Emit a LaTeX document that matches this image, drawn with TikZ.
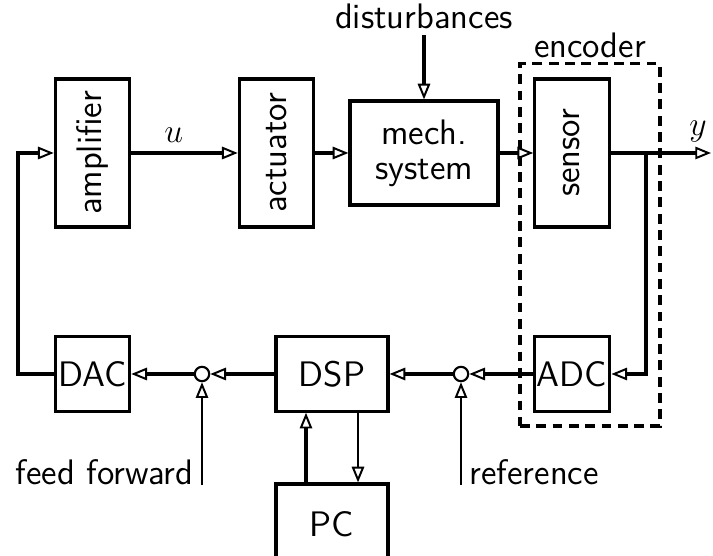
\documentclass[tikz,border=0pt]{standalone}
\usetikzlibrary{arrows.meta,positioning,shapes}

\begin{document}
\begin{tikzpicture}[
    x=0.0125cm, y=-0.0125cm,
    every node/.style={font=\sffamily\fontsize{12.6}{15}\selectfont},
    box/.style={rectangle, draw, line width=1.1pt, align=center, inner sep=1pt},
    tallbox/.style={box, rotate=90, minimum width=1.85cm, minimum height=0.93cm},
    sqbox/.style={box, minimum width=0.93cm, minimum height=0.93cm},
    sumnode/.style={circle, draw, line width=0.75pt, minimum size=0.18cm, inner sep=0pt},
    arrow/.style={-{Triangle[open, line width=0.7pt, length=5.6pt, width=4.4pt]}, line width=1.1pt},
    thinarrow/.style={-{Triangle[open, line width=0.7pt, length=5.6pt, width=4.4pt]}, line width=0.75pt}
  ]
    \clip (0,0) rectangle (713,556);

    % forward path
    \node[tallbox] (amp) at (92.5,153) {amplifier};
    \node[tallbox] (act) at (276.5,153) {actuator};
    \node[box, minimum width=1.85cm, minimum height=1.3cm] (mech) at (424,153) {mech.\\[-2.5pt]system};
    \node[tallbox] (sensor) at (572,153) {sensor};

    % feedback path
    \node[sqbox] (dac) at (92.5,374) {DAC};
    \node[sumnode] (sumff) at (202,374) {};
    \node[box, minimum width=1.4cm, minimum height=0.93cm] (dsp) at (332,374) {DSP};
    \node[sumnode] (sumref) at (461,374) {};
    \node[sqbox] (adc) at (572,374) {ADC};
    \node[box, minimum width=1.4cm, minimum height=1.0cm] (pc) at (332,524) {PC};

    \node[draw, dashed, dash pattern=on 3.5pt off 2.3pt, line width=1.1pt,
          minimum width=1.75cm, minimum height=4.525cm] (enc) at (590,245) {};
    \node[above=-2pt of enc] (enclabel) {encoder};

    \node (dist) at (424,16) {disturbances};
    \node[anchor=base east, inner sep=0pt] (fflabel) at (194,485) {feed forward};
    \node[anchor=base west, inner sep=0pt] (reflabel) at (469,485) {reference};

    \coordinate (yout) at (711,153);
    \coordinate (tap) at (646,153);
    \coordinate (fbl) at (18,153);
    \coordinate (ffin) at (202,485);
    \coordinate (refin) at (461,485);

    \draw[arrow] (amp) -- node[above, pos=0.4] {$u$} (act);
    \draw[arrow] (act) -- (mech);
    \draw[arrow] (mech) -- (sensor);
    \draw[arrow] (sensor) -- node[above, pos=0.87] {$y$} (yout);
    \draw[arrow] (dist.south |- 0,35) -- (mech);
    \draw[arrow] (tap) |- (adc);
    \draw[arrow] (adc) -- (sumref);
    \draw[arrow] (sumref) -- (dsp);
    \draw[arrow] (dsp) -- (sumff);
    \draw[arrow] (sumff) -- (dac);
    \draw[arrow] (dac.west) -- (fbl |- dac) -- (fbl) -- (amp);
    \draw[thinarrow] (ffin) -- (sumff);
    \draw[thinarrow] (refin) -- (sumref);
    \draw[arrow] ([xshift=-0.325cm]pc.north) -- ([xshift=-0.325cm]dsp.south);
    \draw[thinarrow] ([xshift=0.325cm]dsp.south) -- ([xshift=0.325cm]pc.north);
  \end{tikzpicture}
\end{document}
